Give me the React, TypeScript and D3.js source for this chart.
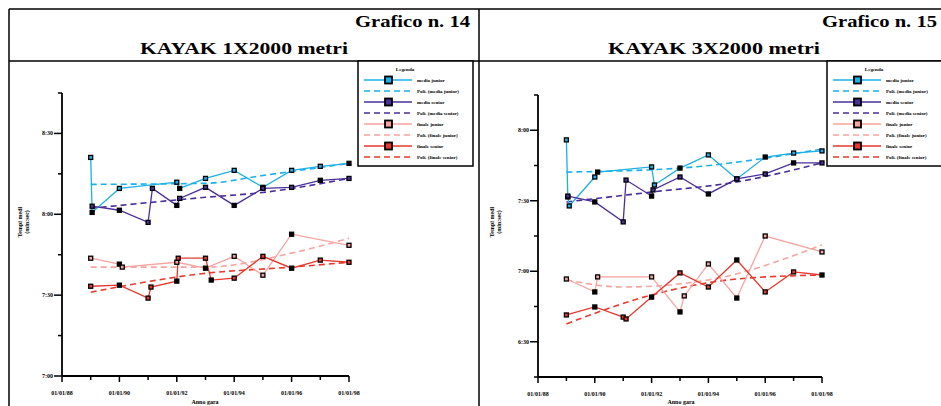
import React from "react";
import * as d3 from "d3";

const width = 941;
const height = 406;

// x axis: competition years, one minor tick per year
const xTickLabels = ["01/01/88", "01/01/90", "01/01/92", "01/01/94", "01/01/96", "01/01/98"];

const legendTitle = "Legenda";
const seriesNames = ["media junior", "media senior", "finale junior", "finale senior"];
const trendPrefix = "Poli.";

// Grafico n. 14 - KAYAK 1X2000 (time in seconds)
const k1Ticks = [420, 450, 480, 510];
const k1MediaJunior = [[1, 501.1], [1.05, 480.7], [2, 489.6], [4, 491.9], [4.1, 489.6], [5, 493.3], [6, 496.3], [7, 490], [8, 496.3], [9, 497.8], [10, 498.9]];
const k1MediaSenior = [[1.05, 483], [2, 481.5], [3, 477], [3.15, 489.6], [4, 483.3], [4.1, 485.9], [5, 490], [6, 483.3], [7, 489.6], [8, 490], [9, 492.6], [10, 493.3]];
const k1FinaleJunior = [[1, 463.7], [2, 461.5], [2.1, 460.4], [4, 462.2], [5, 460], [6, 464.4], [7, 457.4], [8, 472.6], [10, 468.5]];
const k1FinaleSenior = [[1, 453.3], [2, 453.7], [3, 448.9], [3.1, 453], [4, 455.2], [4.05, 463.7], [5, 463.7], [5.2, 455.6], [6, 456.3], [7, 464.4], [8, 460], [9, 463], [10, 462.2]];
// trend lines read at a few x positions
const k1TrendMJ = [[1, 491.1], [5, 491.5], [7, 494.4], [10, 498.9]];
const k1TrendMS = [[1, 482.2], [5, 486.3], [7, 488.1], [10, 493.3]];
const k1TrendFJ = [[1, 460.4], [5, 460.4], [8, 465.6], [10, 471.1]];
const k1TrendFS = [[1, 451.1], [5, 458.1], [8, 460.4], [10, 462.2]];

// Grafico n. 15 - KAYAK 3X2000
const k3Ticks = [390, 420, 450, 480];
const k3MediaJunior = [[1, 475.9], [1.05, 451.6], [1.1, 447.8], [2, 460.1], [2.1, 462.2], [4, 464.4], [4.1, 456.7], [5, 463.9], [6, 469.5], [7, 459.3], [8, 468.6], [9, 470.3], [10, 471.2]];
const k3MediaSenior = [[1.05, 452], [2, 449.5], [3, 441], [3.1, 458.8], [4, 452], [4.05, 454.6], [5, 460.1], [6, 452.9], [7, 459.3], [8, 461.4], [9, 466.1], [10, 466.1]];
const k3FinaleJunior = [[1, 416.7], [2, 411.2], [2.1, 417.6], [4, 417.6], [5, 402.7], [5.15, 409.5], [6, 423.1], [7, 408.6], [8, 435], [10, 428.2]];
const k3FinaleSenior = [[1, 401.4], [2, 404.8], [3, 400.5], [3.1, 399.7], [4, 409], [5, 419.3], [6, 413.3], [7, 424.8], [8, 411.2], [9, 419.7], [10, 418.4]];
const k3TrendMJ = [[1, 462.2], [5, 463.9], [10, 472]];
const k3TrendMS = [[1, 449.5], [4, 453.7], [7, 458], [10, 466.1]];
const k3TrendFJ = [[1, 416.3], [3, 413.3], [6, 416.3], [10, 431.2]];
const k3TrendFS = [[1, 397.6], [4, 409.9], [7, 416.7], [10, 418.4]];

const colors = ["#1ab0ea", "#4a2f9c", "#f6a4a0", "#e8382c"];
const serif = "'Liberation Serif', 'Times New Roman', serif";

const fmt = (v) => `${Math.floor(v / 60)}:${String(v % 60).padStart(2, "0")}`;

function Panel({ cfg }) {
  const x = d3.scaleLinear().domain([0, 10]).range(cfg.xRange);
  const y = d3.scaleLinear().domain(cfg.yDomain).range(cfg.yRange);
  const line = d3.line().x((d) => x(d[0])).y((d) => y(d[1]));
  const trend = d3.line().x((d) => x(d[0])).y((d) => y(d[1])).curve(d3.curveMonotoneX);

  const x0 = cfg.xRange[0];
  const yb = cfg.yRange[0];
  const yMinor = d3.range(cfg.yDomain[0], cfg.yDomain[1] + 1, 15).filter((v) => !cfg.yTicks.includes(v));
  const xMajor = d3.range(0, 11, 2);
  const xMinor = d3.range(1, 10, 2);

  const lg = cfg.legend;
  const entries = [];
  cfg.series.forEach((s, i) => {
    entries.push({ name: seriesNames[i], color: colors[i], dashed: false });
    entries.push({ name: `${trendPrefix} (${seriesNames[i]})`, color: colors[i], dashed: true });
  });

  return (
    <g>
      {/* header */}
      <text
        x={cfg.numX}
        y={27}
        textAnchor="end"
        fontFamily={serif}
        fontWeight="bold"
        fontSize={17}
        textLength={115}
        lengthAdjust="spacingAndGlyphs"
      >
        {cfg.num}
      </text>
      <text
        x={cfg.titleX}
        y={54}
        textAnchor="middle"
        fontFamily={serif}
        fontWeight="bold"
        fontSize={17}
        textLength={cfg.titleW}
        lengthAdjust="spacingAndGlyphs"
      >
        {cfg.title}
      </text>

      {/* trends */}
      {cfg.trends.map((t, i) => (
        <path key={"t" + i} d={trend(t)} fill="none" stroke={colors[i]} strokeWidth={1.6} strokeDasharray="6,4" />
      ))}
      {/* series */}
      {cfg.series.map((s, i) => (
        <path key={"s" + i} d={line(s)} fill="none" stroke={colors[i]} strokeWidth={1.3} />
      ))}
      {cfg.series.map((s, i) =>
        s.map((d, j) => (
          <rect
            key={`m${i}-${j}`}
            x={x(d[0]) - 2}
            y={y(d[1]) - 2}
            width={4}
            height={4}
            fill={j % 3 === 1 ? "#000" : colors[i]}
            stroke="#000"
            strokeWidth={1.3}
          />
        ))
      )}

      {/* axes */}
      <line x1={x0} x2={x0} y1={y(cfg.yDomain[1])} y2={yb} stroke="#000" strokeWidth={1.8} />
      <line x1={x0} x2={x(10)} y1={yb} y2={yb} stroke="#000" strokeWidth={1.8} />
      {cfg.yTicks.map((v) => (
        <g key={"yt" + v}>
          <line x1={x0 - 8} x2={x0} y1={y(v)} y2={y(v)} stroke="#000" strokeWidth={1.5} />
          <text x={x0 - 9} y={y(v) + 2} textAnchor="end" fontFamily={serif} fontWeight="bold" fontSize={6}>
            {fmt(v)}
          </text>
        </g>
      ))}
      {yMinor.map((v) => (
        <line key={"ym" + v} x1={x0 - 4} x2={x0} y1={y(v)} y2={y(v)} stroke="#000" strokeWidth={1.5} />
      ))}
      {xMajor.map((v, i) => (
        <g key={"xt" + v}>
          <line x1={x(v)} x2={x(v)} y1={yb} y2={yb + 6} stroke="#000" strokeWidth={1.5} />
          <text x={x(v)} y={yb + 19} textAnchor="middle" fontFamily={serif} fontWeight="bold" fontSize={6}>
            {xTickLabels[i]}
          </text>
        </g>
      ))}
      {xMinor.map((v) => (
        <line key={"xm" + v} x1={x(v)} x2={x(v)} y1={yb} y2={yb + 4} stroke="#000" strokeWidth={1.5} />
      ))}
      <text
        transform={`translate(${cfg.yTitleX},${cfg.yTitleY}) rotate(-90)`}
        textAnchor="middle"
        fontFamily={serif}
        fontWeight="bold"
        fontSize={6}
      >
        <tspan x={0} dy={0}>Tempi medi</tspan>
        <tspan x={0} dy={7}>(min:sec)</tspan>
      </text>
      <text x={cfg.xTitleX} y={404} textAnchor="middle" fontFamily={serif} fontWeight="bold" fontSize={6}>
        Anno gara
      </text>

      {/* legend */}
      <rect x={lg.x} y={61} width={lg.w} height={105} fill="#fff" stroke="#000" strokeWidth={1.5} />
      <text x={lg.x + 47} y={71} textAnchor="middle" fontFamily={serif} fontWeight="bold" fontSize={5}>
        {legendTitle}
      </text>
      {entries.map((e, i) => {
        const ey = 80 + i * 11;
        return (
          <g key={"lg" + i}>
            <line
              x1={lg.x + 6}
              x2={lg.x + 54}
              y1={ey}
              y2={ey}
              stroke={e.color}
              strokeWidth={1.6}
              strokeDasharray={e.dashed ? "6,4" : null}
            />
            {!e.dashed && (
              <rect x={lg.x + 27} y={ey - 3.5} width={7} height={7} fill={e.color} stroke="#000" strokeWidth={1.8} />
            )}
            <text x={lg.x + 59} y={ey + 2} fontFamily={serif} fontWeight="bold" fontSize={5}>
              {e.name}
            </text>
          </g>
        );
      })}
    </g>
  );
}

const panels = [
  {
    num: "Grafico n. 14",
    numX: 470,
    title: "KAYAK 1X2000 metri",
    titleX: 244,
    titleW: 208,
    xRange: [62, 349],
    yDomain: [420, 525],
    yRange: [376, 93],
    yTicks: k1Ticks,
    series: [k1MediaJunior, k1MediaSenior, k1FinaleJunior, k1FinaleSenior],
    trends: [k1TrendMJ, k1TrendMS, k1TrendFJ, k1TrendFS],
    legend: { x: 358, w: 115 },
    yTitleX: 22,
    yTitleY: 222,
    xTitleX: 205,
  },
  {
    num: "Grafico n. 15",
    numX: 937,
    title: "KAYAK 3X2000 metri",
    titleX: 714,
    titleW: 212,
    xRange: [538, 822],
    yDomain: [375, 495],
    yRange: [377, 95],
    yTicks: k3Ticks,
    series: [k3MediaJunior, k3MediaSenior, k3FinaleJunior, k3FinaleSenior],
    trends: [k3TrendMJ, k3TrendMS, k3TrendFJ, k3TrendFS],
    legend: { x: 827, w: 118 },
    yTitleX: 494,
    yTitleY: 222,
    xTitleX: 681,
  },
];

export default function App() {
  return (
    <svg
      width={width}
      height={height}
      style={{ position: "absolute", left: 0, top: 0, background: "#fff" }}
    >
      <rect x={0} y={0} width={width} height={height} fill="#fff" />
      {/* table frame */}
      <line x1={9} x2={width} y1={9} y2={9} stroke="#000" strokeWidth={1.5} />
      <line x1={9} x2={width} y1={61} y2={61} stroke="#000" strokeWidth={1.5} />
      <line x1={9} x2={9} y1={9} y2={height} stroke="#000" strokeWidth={1.5} />
      <line x1={479} x2={479} y1={9} y2={height} stroke="#000" strokeWidth={1.5} />
      {panels.map((p) => (
        <Panel key={p.num} cfg={p} />
      ))}
    </svg>
  );
}
